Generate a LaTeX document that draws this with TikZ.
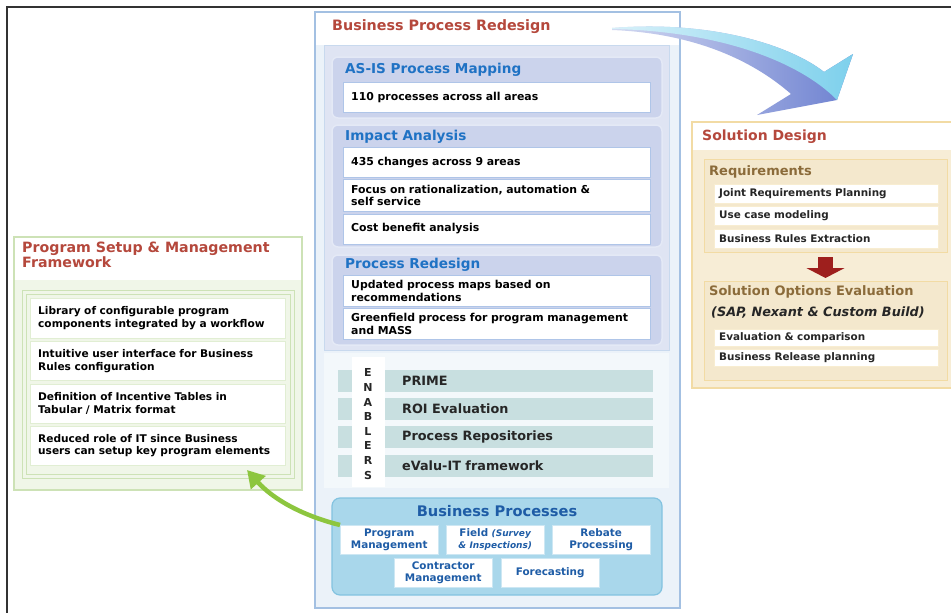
\documentclass[tikz,border=0pt]{standalone}
\usepackage{fontspec}
\setmainfont{DejaVu Sans}
\usetikzlibrary{positioning}
\usetikzlibrary{arrows.meta}

\definecolor{framegray}{HTML}{333333}
\definecolor{titlered}{HTML}{B5483C}
\definecolor{secblue}{HTML}{1F72C4}
\definecolor{bprline}{HTML}{A3C0E2}
\definecolor{bprfill}{HTML}{EBF2F9}
\definecolor{panelfill}{HTML}{DFE4F3}
\definecolor{secfill}{HTML}{CBD3EC}
\definecolor{secline}{HTML}{E4E9F6}
\definecolor{itemline}{HTML}{AFC5E8}
\definecolor{enfill}{HTML}{F3F8FB}
\definecolor{enbar}{HTML}{C8DFE0}
\definecolor{bpfill}{HTML}{A9D7EB}
\definecolor{bpline}{HTML}{83C3E0}
\definecolor{bptext}{HTML}{1E5CA6}
\definecolor{psline}{HTML}{CDE2B6}
\definecolor{psfill}{HTML}{F0F6E8}
\definecolor{sdline}{HTML}{F2DBA4}
\definecolor{sdfill}{HTML}{F7EDD6}
\definecolor{subfill}{HTML}{F4E8CD}
\definecolor{subtitle}{HTML}{8B6B3A}
\definecolor{downred}{HTML}{9E1F1D}
\definecolor{greenarrow}{HTML}{8DC63F}
\definecolor{arrowcyan}{HTML}{7DD0EC}
\definecolor{arrowblue}{HTML}{6C80D0}

\newcommand\itemfont{\fontsize{10.9}{12.6}\selectfont\bfseries}

\tikzset{
  box/.style={anchor=north west, inner sep=0, outer sep=0},
  maintitle/.style={anchor=west, inner sep=0, font=\fontsize{14.3}{16}\selectfont\bfseries, text=titlered},
  sectitle/.style={anchor=west, inner sep=0, font=\fontsize{13.6}{15}\selectfont\bfseries, text=secblue},
  subhead/.style={anchor=west, inner sep=0, font=\fontsize{13}{14.5}\selectfont\bfseries, text=subtitle},
  secbox/.style={box, draw=secline, line width=1.5, fill=secfill, rounded corners=6, minimum width=330},
  bpritem/.style={draw=itemline, fill=white, anchor=north west, text width=291, inner xsep=8, inner ysep=1, align=left, font=\itemfont},
  enbarbox/.style={box, fill=enbar, minimum width=315, minimum height=22},
  entext/.style={anchor=west, inner sep=0, font=\fontsize{12.8}{14}\selectfont\bfseries, text=black!85},
  bpitem/.style={draw=bpline!40, fill=white, anchor=north west, text width=94, inner xsep=2, inner ysep=0, minimum height=29, align=center, font=\fontsize{10.4}{11.6}\selectfont\bfseries, text=bptext},
  leftitem/.style={draw=psline!60, fill=white, anchor=north west, text width=239, inner xsep=8, inner ysep=1, align=left, font=\fontsize{10.6}{12.4}\selectfont\bfseries},
  rightitem/.style={draw=sdline!50, fill=white, anchor=north west, text width=214, inner xsep=5, inner ysep=0, align=left, font=\fontsize{10.4}{11}\selectfont\bfseries, text=black!85}
}

\begin{document}
\begin{tikzpicture}[x=1pt,y=-1pt]
  \useasboundingbox (0,0) rectangle (951,613);
  \fill[white] (0,0) rectangle (951,613);
  \draw[framegray, line width=1.8] (7,613) -- (7,7) -- (951,7);

  % Business Process Redesign column
  \node[box, draw=bprline, line width=1.5, fill=bprfill, minimum width=365, minimum height=596] (bprbox) at (315,12) {};
  \fill[white] (316,13) rectangle (679,45);
  \node[maintitle] (bprtitle) at (332,27) {Business Process Redesign};
  \node[box, draw=bprline!60, fill=panelfill, minimum width=345, minimum height=305] (panel) at (324,45) {};

  \node[secbox, minimum height=61] (asis) at (332,57) {};
  \node[sectitle] (asistitle) at (345,70) {AS-IS Process Mapping};
  \node[bpritem, minimum height=30] (asis1) at (343,82) {110 processes across all areas};

  \node[secbox, minimum height=122] (impact) at (332,125) {};
  \node[sectitle] (impacttitle) at (345,137) {Impact Analysis};
  \node[bpritem, minimum height=30] (impact1) at (343,147) {435 changes across 9 areas};
  \node[bpritem, minimum height=32, below=2pt of impact1] (impact2) {Focus on rationalization, automation \&\\self service};
  \node[bpritem, minimum height=30, below=2pt of impact2] (impact3) {Cost benefit analysis};

  \node[secbox, minimum height=90] (redesign) at (332,255) {};
  \node[sectitle] (redesigntitle) at (345,265) {Process Redesign};
  \node[bpritem, minimum height=31] (redesign1) at (343,275) {Updated process maps based on\\recommendations};
  \node[bpritem, minimum height=31, below=2pt of redesign1] (redesign2) {Greenfield process for program management\\and MASS};

  % enablers
  \node[box, fill=enfill, minimum width=345, minimum height=135] (enablers) at (324,353) {};
  \node[enbarbox] (prime) at (338,370) {};
  \node[enbarbox] (roi) at (338,398) {};
  \node[enbarbox] (repos) at (338,426) {};
  \node[enbarbox] (evalu) at (338,455) {};
  \node[box, fill=white, minimum width=33, minimum height=130] (encol) at (352,357) {};
  \node[inner sep=0, align=center, font=\fontsize{11}{14.6}\selectfont\bfseries, text=black!85] (enword) at (368,424) {E\\N\\A\\B\\L\\E\\R\\S};
  \node[entext] (primetext) at (402,381) {PRIME};
  \node[entext] (roitext) at (402,409) {ROI Evaluation};
  \node[entext] (repostext) at (402,437) {Process Repositories};
  \node[entext] (evalutext) at (402,466) {eValu-IT framework};

  % business processes
  \node[box, draw=bpline, line width=1.2, fill=bpfill, rounded corners=8, minimum width=330, minimum height=97] (bpbox) at (332,498) {};
  \node[inner sep=0, font=\fontsize{14.6}{16}\selectfont\bfseries, text=bptext] (bptitle) at (497,511) {Business Processes};
  \node[bpitem] (bpprog) at (340,525) {Program\\Management};
  \node[bpitem] (bpfield) at (446,525) {Field {\fontsize{9}{11}\selectfont\itshape(Survey}\\{\fontsize{9}{11}\selectfont\itshape\& Inspections)}};
  \node[bpitem] (bprebate) at (552,525) {Rebate\\Processing};
  \node[bpitem] (bpcontr) at (394,558) {Contractor\\Management};
  \node[bpitem] (bpfore) at (501,558) {Forecasting};

  % Program Setup & Management Framework
  \node[box, draw=psline, line width=1.5, fill=psfill, minimum width=288, minimum height=253] (psbox) at (14,237) {};
  \fill[white] (15,238) rectangle (301,280);
  \node[anchor=north west, inner sep=0, align=left, font=\fontsize{14.2}{15}\selectfont\bfseries, text=titlered] (pstitle) at (22,242) {Program Setup \& Management\\Framework};
  \draw[psline] (22,290) rectangle (294,478);
  \draw[psline] (26,294) rectangle (290,474);
  \node[leftitem, minimum height=40] (ps1) at (30,298) {Library of configurable program\\components integrated by a workflow};
  \node[leftitem, minimum height=39, below=3pt of ps1] (ps2) {Intuitive user interface for Business\\Rules configuration};
  \node[leftitem, minimum height=39, below=3pt of ps2] (ps3) {Definition of Incentive Tables in\\Tabular / Matrix format};
  \node[leftitem, minimum height=39, below=3pt of ps3] (ps4) {Reduced role of IT since Business\\users can setup key program elements};

  % Solution Design
  \node[box, draw=sdline, line width=1.5, fill=sdfill, minimum width=262, minimum height=266] (sdbox) at (692,122) {};
  \fill[white] (693,123) rectangle (951,150);
  \node[maintitle, font=\fontsize{14}{16}\selectfont\bfseries] (sdtitle) at (702,137) {Solution Design};
  \node[box, draw=sdline, fill=subfill, minimum width=243, minimum height=93] (req) at (704,159) {};
  \node[subhead] (reqtitle) at (709,172) {Requirements};
  \node[rightitem, minimum height=19] (req1) at (714,184) {Joint Requirements Planning};
  \node[rightitem, minimum height=19, below=3pt of req1] (req2) {Use case modeling};
  \node[rightitem, minimum height=19, below=3pt of req2] (req3) {Business Rules Extraction};
  \node[box, draw=sdline, fill=subfill, minimum width=243, minimum height=99] (soe) at (704,281) {};
  \node[subhead] (soetitle) at (709,292) {Solution Options Evaluation};
  \node[anchor=west, inner sep=0, font=\fontsize{12.8}{14}\selectfont\bfseries\itshape, text=black!85] (soenote) at (711,313) {(SAP, Nexant \& Custom Build)};
  \node[rightitem, minimum height=17] (soe1) at (714,329) {Evaluation \& comparison};
  \node[rightitem, minimum height=17, below=3pt of soe1] (soe2) {Business Release planning};
  \draw[downred, line width=15, -{Triangle[length=10pt,width=38pt]}, shorten <=5pt, shorten >=3pt] (req.south) -- (soe.north);

  % connectors
  \coordinate (bluetail) at (612,28);
  \shade[left color=arrowblue!30, right color=arrowblue] (bluetail) .. controls (710,20) and (790,45) .. (824,72) -- (853,54) -- (837,100) -- (757,115) -- (791,94) .. controls (750,58) and (690,33) .. (612,30) -- cycle;
  \shade[left color=arrowcyan!30, right color=arrowcyan] (bluetail) .. controls (710,20) and (790,45) .. (824,72) -- (853,54) -- (837,100) .. controls (800,62) and (720,31) .. (612,29) -- cycle;

  \coordinate (pstip) at (247,470);
  \draw[greenarrow, line width=4.5, -{Triangle[length=17pt,width=19pt]}] (bpprog.north west) .. controls (300,515) and (272,498) .. (pstip);
\end{tikzpicture}
\end{document}
